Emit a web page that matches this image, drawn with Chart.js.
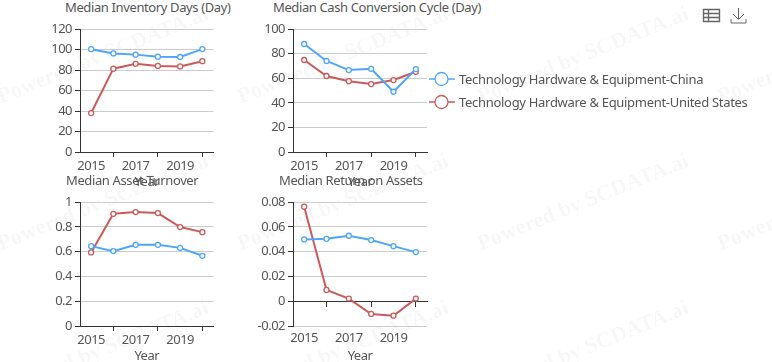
<!DOCTYPE html>
<html>
<head>
<meta charset="utf-8">
<title>Median financial ratios</title>
<script src="https://cdn.jsdelivr.net/npm/chart.js@4/dist/chart.umd.min.js"></script>
<style>
    html, body { margin: 0; padding: 0; background: #fff; }
    #page { position: relative; width: 772px; height: 362px; overflow: hidden; font-family: "Noto Sans", sans-serif; }
    #page canvas { position: absolute; }
    .mark { position: absolute; font: bold 22px "Liberation Serif", serif; color: rgba(0, 0, 0, 0.045); white-space: nowrap; transform: rotate(-22deg); transform-origin: 0 100%; }
    .titulo { position: absolute; font-size: 13px; letter-spacing: -0.38px; line-height: 16px; color: #555; white-space: nowrap; }
    .leyenda { position: absolute; left: 429px; display: flex; align-items: center; height: 18px; font-size: 13px; letter-spacing: -0.3px; color: #555; white-space: nowrap; }
    .leyenda svg { margin-right: 4px; }
    #iconos { position: absolute; left: 702px; top: 7px; }
</style>
</head>
<body>
<div id="page">
    <svg id="iconos" width="46" height="18" fill="none" stroke="#666">
        <path d="M1.5 2.5h16v12h-16zM1.5 6.5h16M1.5 10.5h16M6.5 2.5v12" stroke-width="1.4"/>
        <path d="M36.5 1v11M31 7l5.5 5.5L42 7M29 12v4h15v-4" stroke-width="1"/>
    </svg>
</div>
<script>
const years = ['2015', '2016', '2017', '2018', '2019', '2020'];
const seriesNames = ['Technology Hardware & Equipment-China', 'Technology Hardware & Equipment-United States'];
const seriesColors = ['#4ea6fb', '#cb5a5a'];

const inventoryChina = [100.3, 96.2, 95, 93, 92.7, 100.4];
const inventoryUS = [38, 81.3, 86, 84, 83.5, 88.6];
const cashCycleChina = [87.8, 74, 66.6, 67.6, 49, 67.4];
const cashCycleUS = [74.8, 61.8, 57.6, 55.2, 58.5, 65.2];
const turnoverChina = [0.644, 0.604, 0.655, 0.655, 0.63, 0.566];
const turnoverUS = [0.593, 0.905, 0.919, 0.911, 0.798, 0.757];
const roaChina = [0.0498, 0.0503, 0.0528, 0.0493, 0.0444, 0.0396];
const roaUS = [0.0762, 0.0091, 0.0021, -0.0103, -0.0117, 0.0021];

Chart.defaults.font.family = '"Noto Sans", sans-serif';

const page = document.getElementById('page');

// watermark behind everything
[108, 255, 402].forEach(y => {
    [3, 243, 483, 723].forEach(x => {
        const mark = document.createElement('div');
        mark.className = 'mark';
        mark.textContent = 'Powered by SCDATA.ai';
        mark.style.left = x + 'px';
        mark.style.top = (y - 25) + 'px';
        page.appendChild(mark);
    });
});

const formatTick = v => String(+v.toFixed(2));

// tighter digits, the reference font is narrower than Noto Sans
const ajusteTexto = {
    id: 'ajusteTexto',
    beforeDraw: chart => { chart.ctx.letterSpacing = '-0.5px'; }
};

const crearPanel = ({ title, titleX, titleY, left, top, plotH, rightPad, china, us, min, max, step, zeroAxis }) => {
    const height = 29 + plotH + 38;

    const t = document.createElement('div');
    t.className = 'titulo';
    t.textContent = title;
    t.style.left = titleX + 'px';
    t.style.top = titleY + 'px';
    page.appendChild(t);

    const canvas = document.createElement('canvas');
    canvas.width = 210;
    canvas.height = height;
    canvas.style.left = left + 'px';
    canvas.style.top = top + 'px';
    page.appendChild(canvas);

    const marcaPar = ctx => ctx.index % 2 === 1 ? '#333' : 'rgba(0,0,0,0)';
    const scales = {
        x: {
            offset: true,
            border: { display: !zeroAxis, color: '#333' },
            grid: { drawOnChartArea: false, drawTicks: !zeroAxis, tickLength: 5, tickColor: marcaPar },
            ticks: {
                autoSkip: false, maxRotation: 0, padding: zeroAxis ? 4 : 1,
                color: '#555', font: { size: 13 },
                callback: (v, i) => i % 2 === 0 ? years[i] : ''
            },
            title: { display: true, text: 'Year', color: '#555', font: { size: 13 }, padding: { top: 0, bottom: 0 } },
            afterFit: s => { s.height = 38; }
        },
        y: {
            min, max,
            border: { color: '#333' },
            grid: { color: '#ccc', tickColor: '#333', tickLength: 5 },
            ticks: { stepSize: step, color: '#555', font: { size: 13 }, padding: 3, callback: formatTick },
            afterFit: s => { s.width = 70; }
        }
    };
    if (zeroAxis) {
        scales.x0 = {
            type: 'category',
            offset: true,
            position: { y: 0 },
            border: { color: '#333' },
            grid: { drawOnChartArea: false, tickLength: 5, tickColor: marcaPar },
            ticks: { display: false, autoSkip: false }
        };
    }

    new Chart(canvas, {
        type: 'line',
        data: {
            labels: years,
            datasets: [china, us].map((data, i) => ({
                label: seriesNames[i],
                data,
                borderColor: seriesColors[i],
                borderWidth: 2,
                backgroundColor: '#fff',
                pointBackgroundColor: '#fff',
                pointBorderColor: seriesColors[i],
                pointBorderWidth: 1.3,
                pointRadius: 2.5,
                tension: 0
            }))
        },
        options: {
            responsive: false,
            animation: false,
            layout: { padding: { top: 29, right: rightPad, left: 0, bottom: 0 } },
            plugins: { legend: { display: false }, tooltip: { enabled: false }, title: { display: false } },
            scales
        },
        plugins: [ajusteTexto]
    });
};

crearPanel({ title: 'Median Inventory Days (Day)', titleX: 65, titleY: -1, left: 10, top: 0, plotH: 123, rightPad: 6.5,
    china: inventoryChina, us: inventoryUS, min: 0, max: 120, step: 20 });
crearPanel({ title: 'Median Cash Conversion Cycle (Day)', titleX: 273, titleY: -1, left: 223, top: 0, plotH: 123, rightPad: 6,
    china: cashCycleChina, us: cashCycleUS, min: 0, max: 100, step: 20 });
crearPanel({ title: 'Median Asset Turnover', titleX: 66, titleY: 172, left: 10, top: 173, plotH: 124, rightPad: 6.5,
    china: turnoverChina, us: turnoverUS, min: 0, max: 1, step: 0.2 });
crearPanel({ title: 'Median Return on Assets', titleX: 279, titleY: 172, left: 223, top: 173, plotH: 124, rightPad: 6,
    china: roaChina, us: roaUS, min: -0.02, max: 0.08, step: 0.02, zeroAxis: true });

// legend
seriesNames.forEach((name, i) => {
    const row = document.createElement('div');
    row.className = 'leyenda';
    row.style.top = (70 + i * 23) + 'px';
    const c = seriesColors[i];
    row.innerHTML = `<svg width="26" height="18"><path d="M0 9h26" stroke="${c}" stroke-width="1.5"/><circle cx="12.5" cy="9" r="6.5" fill="#fff" stroke="${c}" stroke-width="1.3"/></svg>`;
    row.appendChild(document.createTextNode(name));
    page.appendChild(row);
});
</script>
</body>
</html>
